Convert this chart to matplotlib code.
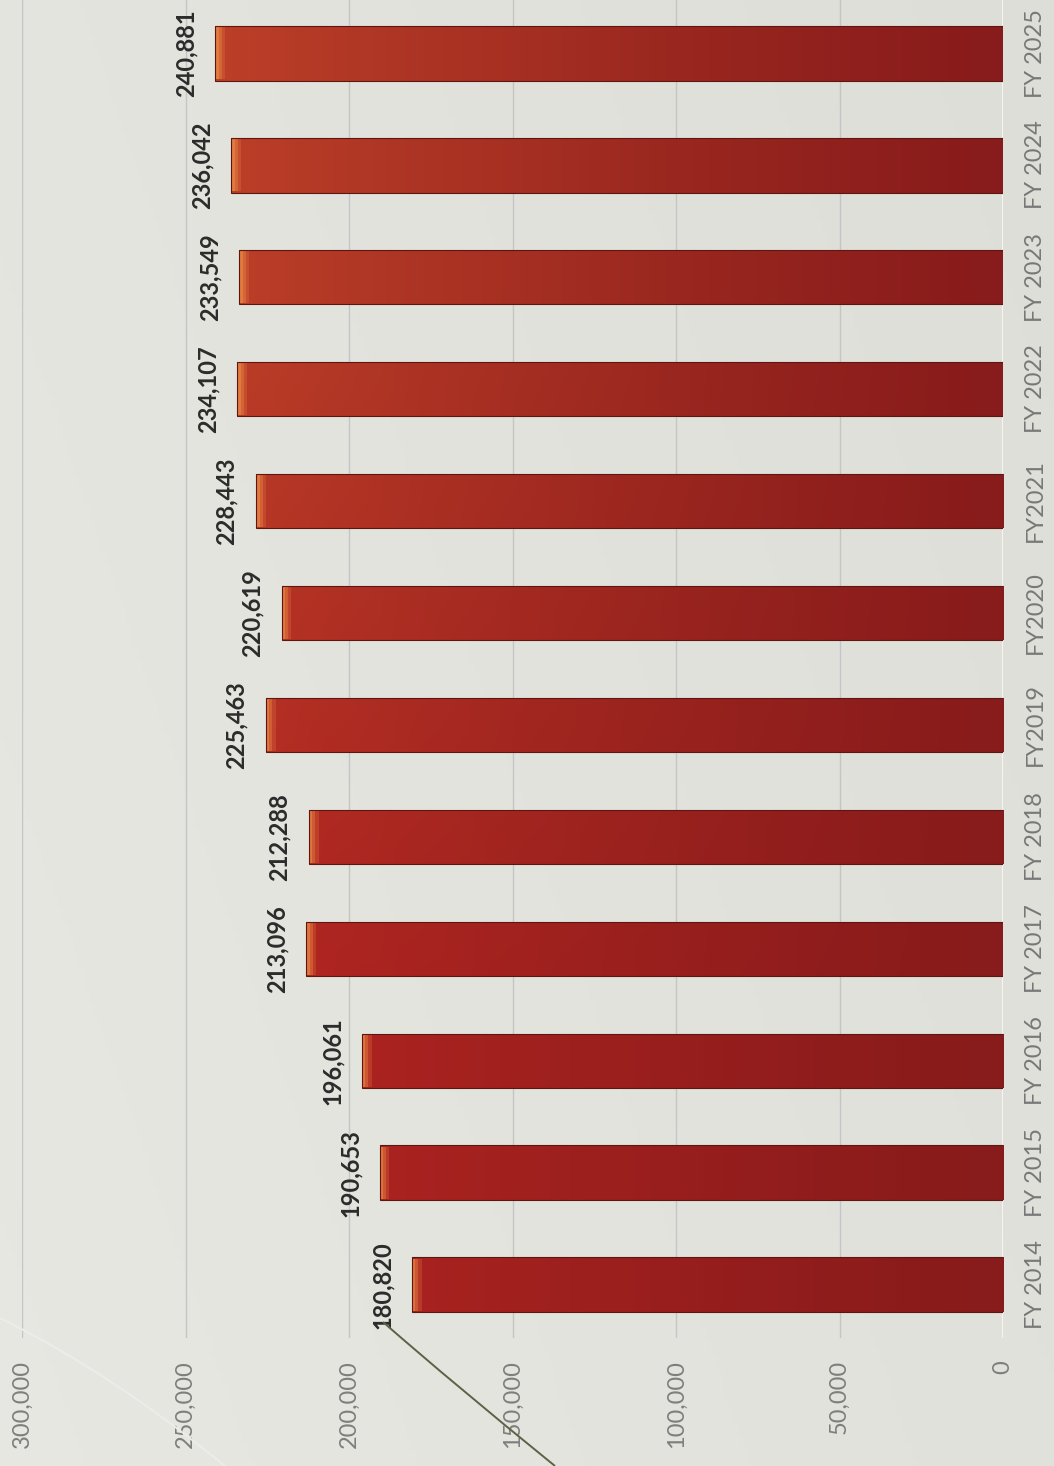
import numpy as np
import matplotlib.pyplot as plt
from matplotlib.path import Path
from matplotlib.patches import PathPatch

# Fiscal-year totals
years = ["FY 2014", "FY 2015", "FY 2016", "FY 2017", "FY 2018", "FY2019",
         "FY2020", "FY2021", "FY 2022", "FY 2023", "FY 2024", "FY 2025"]
totals = [180820, 190653, 196061, 213096, 212288, 225463,
          220619, 228443, 234107, 233549, 236042, 240881]
value_ticks = [0, 50000, 100000, 150000, 200000, 250000, 300000]

W, H = 1054, 1466
fig = plt.figure(figsize=(W / 100, H / 100), dpi=100)
fig.patch.set_facecolor("#dfdfd9")

# soft paper-like background
bg = fig.add_axes([0, 0, 1, 1], zorder=-10)
gx = np.linspace(0, 1, 200)
gy = np.linspace(0, 1, 200)
GX, GY = np.meshgrid(gx, gy)
shade = 0.905 - 0.025 * GX + 0.012 * (1 - GY)
bg.imshow(np.dstack([shade * 0.99, shade * 0.99, shade * 0.965]),
          extent=(0, 1, 0, 1), aspect="auto", origin="lower")
bg.axis("off")

# decorative swooshes in the lower left
def swoosh(p0, p1, p2, color, lw):
    pts = [(x / W, 1 - y / H) for x, y in (p0, p1, p2)]
    path = Path(pts, [Path.MOVETO, Path.CURVE3, Path.CURVE3])
    fig.patches.append(PathPatch(path, transform=fig.transFigure, fill=False,
                                 edgecolor=color, lw=lw, zorder=5))

swoosh((0, 1318), (110, 1372), (225, 1466), "#ececea", 1.4)
swoosh((383, 1322), (455, 1385), (555, 1466), "#5f6145", 1.4)

ax = fig.add_axes([22 / W, 1 - 1338 / H, (1003 - 22) / W, 1338 / H])
ax.set_facecolor("none")

y = np.arange(len(years))
bar_h = 0.49

# gradient fill: brighter orange-red toward long end, dark red near zero
nx, ny = 256, 2
t = np.linspace(0, 1, nx)
dark = np.array([136, 27, 27]) / 255
bright_bot = np.array([194, 40, 35]) / 255
bright_top = np.array([204, 74, 44]) / 255
grad = np.zeros((ny, nx, 3))
grad[0] = dark + (bright_bot - dark) * t[:, None] ** 1.2
grad[1] = dark + (bright_top - dark) * t[:, None] ** 1.2

bars = ax.barh(y, totals, height=bar_h, facecolor="none",
               edgecolor="#5e1710", lw=0.8, zorder=3)
for bar in bars:
    im = ax.imshow(grad, extent=(0, 300000, -0.5, 11.5), origin="lower",
                   aspect="auto", zorder=2, interpolation="bilinear")
    im.set_clip_path(bar)

# bevel highlight fading in from the bar ends
for w, a in [(3000, 0.22), (2000, 0.35), (1100, 0.5)]:
    ax.barh(y, [w] * len(totals), left=[v - w for v in totals],
            height=bar_h * 0.94, color="#f09048", alpha=a, lw=0, zorder=2.5)

for v, yi in zip(totals, y):
    ax.annotate(f"{v:,}", xy=(v, yi), xytext=(-18, 0), textcoords="offset pixels",
                rotation=90, ha="right", va="center", fontsize=17,
                fontweight="bold", family="Lato", color="#2b2b2b", zorder=4)

ax.set_xlim(300000, 0)
ax.set_ylim(-0.474, 11.474)

for v in value_ticks:
    if v == 0:
        ax.axvline(v, color="#f4f4f2", lw=2.2, zorder=1)
    else:
        ax.axvline(v, color="#c4c5c4", lw=1.0, zorder=1)

ax.set_xticks(value_ticks)
ax.set_xticklabels([f"{v:,}" for v in value_ticks], rotation=90,
                   fontsize=17, family="Lato", color="#7e7e7e")
ax.yaxis.tick_right()
ax.set_yticks(y)
ax.set_yticklabels(years, rotation=90, va="center", fontsize=17,
                   family="Lato", color="#787878")
ax.tick_params(axis="x", length=0, pad=16)
ax.tick_params(axis="y", length=0, pad=16)
for s in ax.spines.values():
    s.set_visible(False)

plt.savefig("out.png", dpi=100)
plt.close()
